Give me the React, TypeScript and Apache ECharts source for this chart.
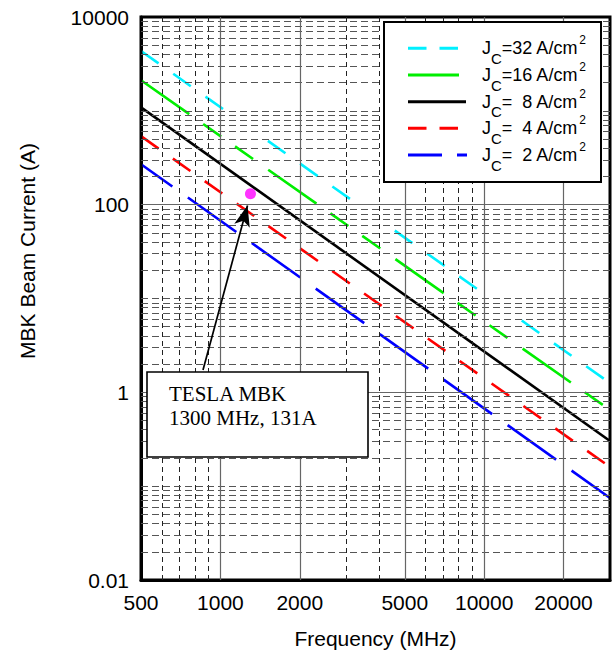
import React, { useEffect, useRef } from 'react';
import * as echarts from 'echarts';

// ---- data ----
const freqRange = [500, 30000]; // MHz, line end points
const seriesNames = ['Jc=32 A/cm2', 'Jc=16 A/cm2', 'Jc= 8 A/cm2', 'Jc= 4 A/cm2', 'Jc= 2 A/cm2'];
const legendValueText = ['=32', '=16', '=\u00a0\u00a08', '=\u00a0\u00a04', '=\u00a0\u00a02'];
const currentAtLow = [4345, 2118, 1090, 537, 270]; // A at 500 MHz
const currentAtHigh = [1.256, 0.648, 0.303, 0.16, 0.0748]; // A at 30000 MHz
const colors = ['#00f0ff', '#00ee00', '#000000', '#ff0000', '#0000ff'];
const xLabelValues = [500, 1000, 2000, 5000, 10000, 20000];
const yLabelValues = [0.01, 1, 100, 10000];
const xMajorGrid = [1000, 2000, 5000, 10000, 20000];
const xMinorGrid = [600, 700, 800, 900, 3000, 4000, 6000, 7000, 8000, 9000];
const yMajorGrid = [1, 100];
const yDecades = [0.01, 0.1, 1, 10, 100, 1000];
const teslaPoint = [1300, 131];
const arrowFrom = [859, 1.73];
const arrowTo = [1267, 98];

// ---- styles ----
const SANS = '"Liberation Sans", Arial, sans-serif';
const SERIF = '"Liberation Serif", "Times New Roman", serif';
const dashes: any[] = [
  [21.5, 18, 21.5, 18, 21.5, 55],
  [59, 17, 22, 17, 22, 18.5],
  'solid',
  [21.5, 17.5],
  [59.5, 19],
];
const dashOffsets = [0, 0, 0, 0, 20.5];
const legendDash: any[] = [[18.5, 13], null, null, [18.5, 13], [34, 15, 10, 100]];
const legendX2 = [459, 459, 466, 459, 467];

export default function App() {
  const ref = useRef<HTMLDivElement>(null);
  useEffect(() => {
    document.body.style.margin = '0';
    const chart = echarts.init(ref.current as HTMLDivElement, null, { renderer: 'svg' });

    const yMinorGrid: number[] = [];
    yDecades.forEach((d) => {
      for (let k = 2; k <= 9; k++) yMinorGrid.push(+(k * d).toPrecision(3));
    });
    [0.1, 10, 1000].forEach((v) => yMinorGrid.push(v));

    const gridMarks: any[] = [
      ...xMinorGrid.map((v) => ({ xAxis: v, lineStyle: { color: '#222', width: 1, type: [5, 4] } })),
      ...yMinorGrid.map((v) => ({ yAxis: v, lineStyle: { color: '#555', width: 1, type: [7, 4] } })),
      ...xMajorGrid.map((v) => ({ xAxis: v, lineStyle: { color: '#666', width: 1.2, type: 'solid' } })),
      ...yMajorGrid.map((v) => ({ yAxis: v, lineStyle: { color: '#666', width: 1.2, type: 'solid' } })),
    ];

    const lineSeries = seriesNames.map((name, i) => ({
      type: 'line',
      name,
      data: [
        [freqRange[0], currentAtLow[i]],
        [freqRange[1], currentAtHigh[i]],
      ],
      symbol: 'none',
      showSymbol: false,
      silent: true,
      z: 3,
      lineStyle: { color: colors[i], width: 2.6, type: dashes[i], dashOffset: dashOffsets[i], cap: 'butt' },
    }));

    const Z = 100;
    const legendRows = [48.3, 75, 101.7, 128.3, 155];
    const legendChildren: any[] = [
      {
        type: 'rect',
        z: Z,
        shape: { x: 384, y: 22, width: 217, height: 160 },
        style: { fill: '#ffffff', stroke: '#000', lineWidth: 2 },
      },
    ];
    seriesNames.forEach((_, i) => {
      legendChildren.push({
        type: 'line',
        z: Z + 1,
        shape: { x1: 408, y1: legendRows[i], x2: legendX2[i], y2: legendRows[i] },
        style: { stroke: colors[i], lineWidth: 3, lineDash: legendDash[i] || null },
      });
      legendChildren.push({
        type: 'text',
        z: Z + 1,
        x: 482,
        y: legendRows[i],
        style: {
          text: `{m|J}{s|C}{m|${legendValueText[i]} A/cm}{p|2}`,
          fill: '#000',
          textVerticalAlign: 'middle',
          verticalAlign: 'middle',
          textAlign: 'left',
          align: 'left',
          rich: {
            m: { fontSize: 18, fontFamily: SANS, fill: '#000', color: '#000' },
            s: { fontSize: 15, fontFamily: SANS, fill: '#000', color: '#000', padding: [20, 0, 0, 0] },
            p: { fontSize: 12, fontFamily: SANS, fill: '#000', color: '#000', padding: [0, 0, 16, 1] },
          },
        },
      });
    });

    const option: any = {
      animation: false,
      backgroundColor: '#fff',
      textStyle: { fontFamily: SANS },
      grid: { left: 141, right: 3, top: 17, bottom: 80, show: true, borderColor: '#000', borderWidth: 3, backgroundColor: 'transparent', z: 4 },
      xAxis: {
        type: 'log',
        logBase: 10,
        min: freqRange[0],
        max: freqRange[1],
        axisLine: { show: true, onZero: false, lineStyle: { color: '#000', width: 3 } },
        axisTick: { show: false },
        splitLine: { show: false },
        minorTick: { show: false },
        minorSplitLine: { show: false },
        axisLabel: {
          customValues: xLabelValues,
          formatter: (v: number) => String(Math.round(v)),
          fontSize: 21,
          color: '#000',
          margin: 12,
          fontFamily: SANS,
        },
        name: 'Frequency (MHz)',
        nameLocation: 'middle',
        nameGap: 48,
        nameTextStyle: { fontSize: 21, color: '#000', fontFamily: SANS },
      },
      yAxis: {
        type: 'log',
        logBase: 10,
        min: 0.01,
        max: 10000,
        axisLine: { show: true, onZero: false, lineStyle: { color: '#000', width: 3 } },
        axisTick: { show: false },
        splitLine: { show: false },
        minorTick: { show: false },
        minorSplitLine: { show: false },
        axisLabel: {
          customValues: yLabelValues,
          formatter: (v: number) => (v < 1 ? String(+v.toPrecision(2)) : String(Math.round(v))),
          fontSize: 21,
          color: '#000',
          margin: 12,
          fontFamily: SANS,
        },
      },
      series: [
        {
          type: 'line',
          name: 'grid',
          data: [[freqRange[0], 1]],
          symbol: 'none',
          showSymbol: false,
          silent: true,
          z: 1,
          lineStyle: { width: 0 },
          markLine: { silent: true, symbol: ['none', 'none'], label: { show: false }, animation: false, data: gridMarks },
        },
        ...lineSeries,
        {
          type: 'scatter',
          name: 'TESLA MBK',
          data: [teslaPoint],
          symbol: 'circle',
          symbolSize: 11,
          itemStyle: { color: '#ff00ff' },
          silent: true,
          z: 5,
        },
        {
          type: 'line',
          name: 'arrow',
          data: [teslaPoint],
          symbol: 'none',
          showSymbol: false,
          silent: true,
          z: 6,
          lineStyle: { width: 0 },
          markLine: {
            silent: true,
            animation: false,
            symbol: ['none', 'arrow'],
            symbolSize: [12, 21],
            label: { show: false },
            lineStyle: { color: '#000', width: 1.7, type: 'solid' },
            itemStyle: { color: '#000' },
            data: [[{ coord: arrowFrom }, { coord: arrowTo }]],
          },
        },
      ],
      graphic: [
        ...legendChildren,
        {
          type: 'rect',
          z: Z,
          shape: { x: 147, y: 372, width: 221, height: 85 },
          style: { fill: '#ffffff', stroke: '#000', lineWidth: 1.6 },
        },
        {
          type: 'text',
          z: Z + 1,
          x: 169,
          y: 406,
          style: {
            text: 'TESLA MBK\n1300 MHz, 131A',
            font: `21px ${SERIF}`,
            fill: '#000',
            lineHeight: 24,
            textVerticalAlign: 'middle',
            verticalAlign: 'middle',
            textAlign: 'left',
            align: 'left',
          },
        },
        {
          type: 'text',
          x: 27,
          y: 251,
          rotation: Math.PI / 2,
          z: Z,
          style: {
            text: 'MBK Beam Current (A)',
            font: `21px ${SANS}`,
            fill: '#000',
            textAlign: 'center',
            align: 'center',
            textVerticalAlign: 'middle',
            verticalAlign: 'middle',
          },
        },
      ],
    };

    chart.setOption(option);
    return () => chart.dispose();
  }, []);

  return <div ref={ref} style={{ position: 'absolute', left: 0, top: 0, width: 613, height: 660 }} />;
}
